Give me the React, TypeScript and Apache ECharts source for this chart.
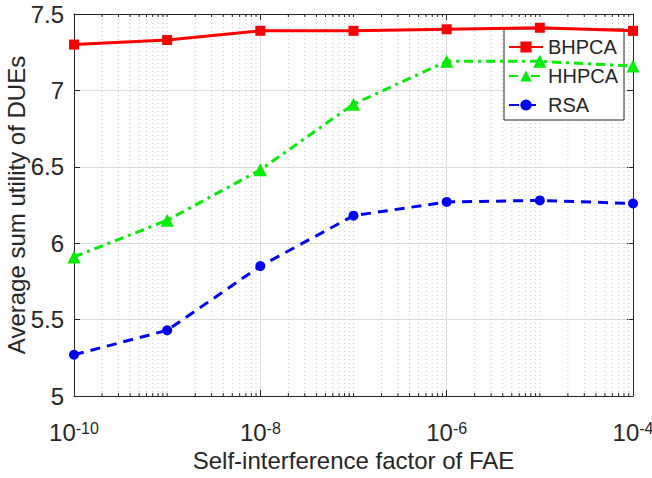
import React, { useEffect, useRef } from "react";
import * as echarts from "echarts";

// Self-interference factor of the FAE (x) and the resulting average sum utility (y)
const factors = [1e-10, 1e-9, 1e-8, 1e-7, 1e-6, 1e-5, 1e-4];
const bhpca = [7.30, 7.33, 7.39, 7.39, 7.40, 7.41, 7.39];
const hhpca = [5.91, 6.15, 6.48, 6.91, 7.19, 7.19, 7.16];
const rsa = [5.27, 5.43, 5.85, 6.18, 6.27, 6.28, 6.26];

const seriesNames = ["BHPCA", "HHPCA", "RSA"];
const xMin = 1e-10;
const xMax = 1e-4;
const yMin = 5;
const yMax = 7.5;
const yStep = 0.5;

// decade multipliers used for the dotted minor grid of the log axis
const minorMultipliers = [2, 3, 4, 5, 6, 7, 8, 9];
const decadeExponents = [-10, -9, -8, -7, -6, -5];
const oddDecades = [1e-9, 1e-7, 1e-5];

const FONT = "'Liberation Sans', Arial, Helvetica, sans-serif";
const INK = "#262626";

export default function App() {
  const ref = useRef<HTMLDivElement>(null);

  useEffect(() => {
    if (!ref.current) return;
    const chart = echarts.init(ref.current, undefined, { renderer: "svg" });

    const minorPositions: number[] = [];
    decadeExponents.forEach((e) => {
      minorMultipliers.forEach((m) => minorPositions.push(m * Math.pow(10, e)));
    });
    const gridPositions = [...oddDecades, ...minorPositions];

    const pair = (ys: number[]) => factors.map((x, i) => [x, ys[i]]);

    const xLabel = (v: number) => {
      const e = Math.round(Math.log10(v));
      return `{b|10}{s|${e}}`;
    };

    const baseX = {
      type: "log" as const,
      logBase: 10,
      min: xMin,
      max: xMax,
      interval: 2,
      axisLine: { show: true, lineStyle: { color: INK, width: 1 } },
      axisTick: { show: true, inside: true, length: 6, lineStyle: { color: INK } },
      splitLine: { show: false },
      minorTick: { show: false },
    };

    const baseY = {
      type: "value" as const,
      min: yMin,
      max: yMax,
      interval: yStep,
      axisLine: { show: true, lineStyle: { color: INK, width: 1 } },
      axisTick: { show: true, inside: true, length: 6, lineStyle: { color: INK } },
    };

    chart.setOption({
      animation: false,
      backgroundColor: "#ffffff",
      grid: {
        left: 74,
        right: 19,
        top: 14,
        bottom: 82,
        containLabel: false,
        outerBoundsMode: "none",
      },
      legend: {
        data: seriesNames,
        orient: "vertical",
        left: 504,
        top: 29,
        backgroundColor: "#ffffff",
        borderColor: INK,
        borderWidth: 1,
        padding: [8, 6, 5, 4],
        itemGap: 9,
        itemWidth: 34,
        itemHeight: 14,
        textStyle: { fontFamily: FONT, fontSize: 20, color: INK, lineHeight: 20 },
      },
      xAxis: [
        {
          ...baseX,
          position: "bottom",
          name: "Self-interference factor of FAE",
          nameLocation: "middle",
          nameGap: 52,
          nameMoveOverlap: false,
          nameTextStyle: { fontFamily: FONT, fontSize: 24, color: INK },
          axisLabel: {
            show: true,
            margin: 24,
            formatter: xLabel,
            rich: {
              b: { fontFamily: FONT, fontSize: 24, color: INK, lineHeight: 24, verticalAlign: "bottom" },
              s: { fontFamily: FONT, fontSize: 16, color: INK, lineHeight: 16, verticalAlign: "top" },
            },
          },
          splitLine: { show: true, lineStyle: { color: "#dedede", width: 1 } },
        },
        {
          ...baseX,
          position: "top",
          axisLabel: { show: false },
        },
      ],
      yAxis: [
        {
          ...baseY,
          position: "left",
          name: "Average sum utility of DUEs",
          nameLocation: "middle",
          nameGap: 46,
          nameMoveOverlap: false,
          nameTextStyle: { fontFamily: FONT, fontSize: 24, color: INK },
          axisLabel: { show: true, margin: 10, fontFamily: FONT, fontSize: 24, color: INK },
          splitLine: { show: true, lineStyle: { color: "#dedede", width: 1 } },
        },
        {
          ...baseY,
          position: "right",
          axisLabel: { show: false },
          splitLine: { show: false },
        },
      ],
      series: [
        {
          // dotted minor grid and minor ticks of the log axis
          type: "custom",
          silent: true,
          z: 1,
          xAxisIndex: 0,
          yAxisIndex: 0,
          data: gridPositions.map((x) => [x, yMin]),
          renderItem: (params: any, api: any) => {
            const x = api.value(0);
            const bottom = api.coord([x, yMin]);
            const top = api.coord([x, yMax]);
            const minorStyle = { stroke: "#c8c8c8", lineWidth: 1, lineDash: [1, 3] };
            const tickStyle = { stroke: INK, lineWidth: 1 };
            return {
              type: "group",
              children: [
                {
                  type: "line",
                  shape: { x1: bottom[0], y1: bottom[1], x2: top[0], y2: top[1] },
                  style: minorStyle,
                },
                {
                  type: "line",
                  shape: { x1: bottom[0], y1: bottom[1], x2: bottom[0], y2: bottom[1] - 3 },
                  style: tickStyle,
                },
                {
                  type: "line",
                  shape: { x1: top[0], y1: top[1], x2: top[0], y2: top[1] + 3 },
                  style: tickStyle,
                },
              ],
            };
          },
        },
        {
          name: "BHPCA",
          type: "line",
          z: 5,
          clip: false,
          data: pair(bhpca),
          symbol: "rect",
          symbolSize: 10,
          color: "#ff0000",
          itemStyle: { color: "#ff0000" },
          lineStyle: { color: "#ff0000", width: 3, type: "solid" },
        },
        {
          name: "HHPCA",
          type: "line",
          z: 4,
          clip: false,
          data: pair(hhpca),
          symbol: "triangle",
          symbolSize: 13,
          color: "#00ee00",
          itemStyle: { color: "#00ee00" },
          lineStyle: { color: "#00ee00", width: 3, type: [9, 5, 3, 5] },
        },
        {
          name: "RSA",
          type: "line",
          z: 3,
          clip: false,
          data: pair(rsa),
          symbol: "circle",
          symbolSize: 10,
          color: "#0000ff",
          itemStyle: { color: "#0000ff" },
          lineStyle: { color: "#0000ff", width: 3, type: [10, 7] },
        },
      ],
    });

    return () => chart.dispose();
  }, []);

  return (
    <div
      ref={ref}
      style={{ position: "fixed", left: 0, top: 0, width: 652, height: 478, background: "#fff" }}
    />
  );
}
